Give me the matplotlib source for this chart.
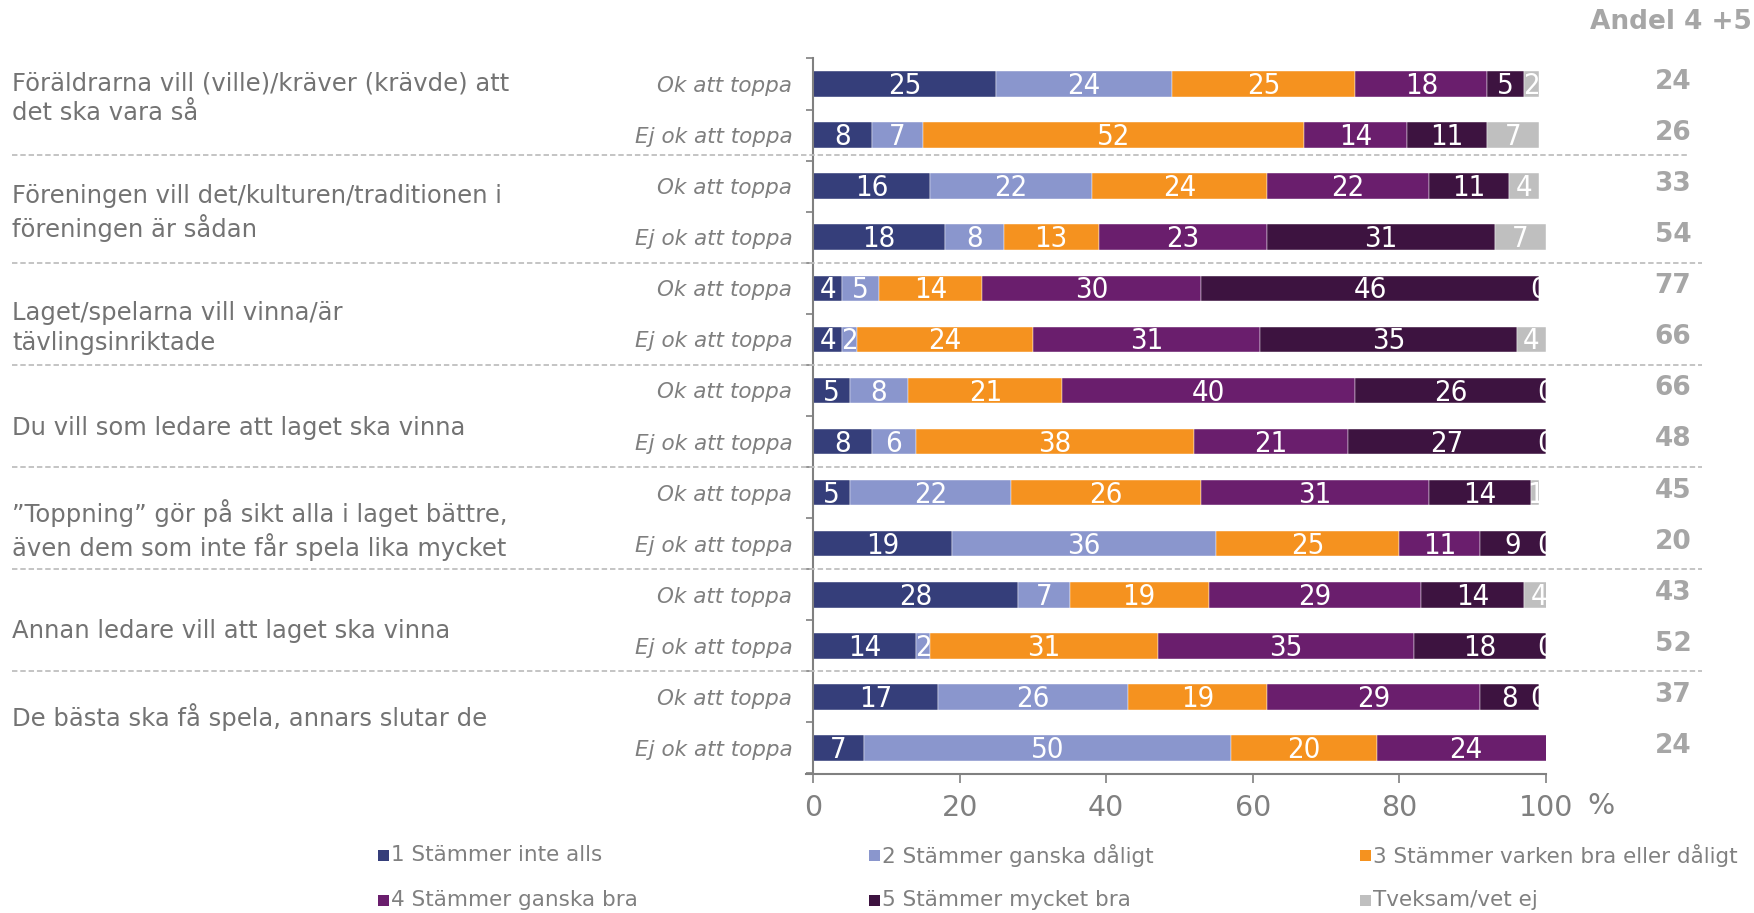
import numpy as np
import matplotlib
matplotlib.use("Agg")
import matplotlib.pyplot as plt
from matplotlib.patches import Rectangle
from matplotlib.transforms import blended_transform_factory

# ---------------- data ----------------
groups = [
    "Föräldrarna vill (ville)/kräver (krävde) att\ndet ska vara så",
    "Föreningen vill det/kulturen/traditionen i\nföreningen är sådan",
    "Laget/spelarna vill vinna/är\ntävlingsinriktade",
    "Du vill som ledare att laget ska vinna",
    "”Toppning” gör på sikt alla i laget bättre,\näven dem som inte får spela lika mycket",
    "Annan ledare vill att laget ska vinna",
    "De bästa ska få spela, annars slutar de",
]
sub_labels = ["Ok att toppa", "Ej ok att toppa"] * 7
series_names = ["1 Stämmer inte alls", "2 Stämmer ganska dåligt",
                "3 Stämmer varken bra eller dåligt", "4 Stämmer ganska bra",
                "5 Stämmer mycket bra", "Tveksam/vet ej"]
s1 = [25, 8, 16, 18, 4, 4, 5, 8, 5, 19, 28, 14, 17, 7]
s2 = [24, 7, 22, 8, 5, 2, 8, 6, 22, 36, 7, 2, 26, 50]
s3 = [25, 52, 24, 13, 14, 24, 21, 38, 26, 25, 19, 31, 19, 20]
s4 = [18, 14, 22, 23, 30, 31, 40, 21, 31, 11, 29, 35, 29, 24]
s5 = [5, 11, 11, 31, 46, 35, 26, 27, 14, 9, 14, 18, 8, None]
s6 = [2, 7, 4, 7, 0, 4, 0, 0, 1, 0, 4, 0, 0, None]
andel = [24, 26, 33, 54, 77, 66, 66, 48, 45, 20, 43, 52, 37, 24]
xticks = [0, 20, 40, 60, 80, 100]

# ---------------- style ----------------
colors = ["#353E7A", "#8A96CD", "#F5921F", "#6A1E6D", "#3D1340", "#BFBFBF"]
W, H = 1754, 913
fig = plt.figure(figsize=(W / 100, H / 100), dpi=100)
ax_left, ax_right, ax_top, ax_bot = 813, 1546, 58.5, 773.5
ax = fig.add_axes([ax_left / W, 1 - ax_bot / H, (ax_right - ax_left) / W, (ax_bot - ax_top) / H])

n = len(s1)
ypos = np.arange(n)
series = [s1, s2, s3, s4, s5, s6]
left = np.zeros(n)
bar_h = 0.5
labels_to_draw = []
for k, s in enumerate(series):
    vals = np.array([np.nan if v is None else v for v in s], dtype=float)
    mask = ~np.isnan(vals)
    ax.barh(ypos[mask], vals[mask], left=left[mask], height=bar_h,
            color=colors[k], edgecolor="white", linewidth=0.3, zorder=2)
    for i in np.where(mask)[0]:
        labels_to_draw.append((left[i] + vals[i] / 2, i, int(vals[i])))
    left = left + np.nan_to_num(vals)

totals = left.copy()
for x, i, v in labels_to_draw:
    t = ax.text(x, i + 0.04, str(v), ha="center", va="center", color="white",
                fontsize=21, fontstretch="condensed", zorder=3)
    clip = Rectangle((0, i - bar_h / 2 - 0.15), min(totals[i], 100), bar_h + 0.3,
                     transform=ax.transData)
    t.set_clip_path(clip)

ax.set_xlim(0, 100)
ax.set_ylim(n - 0.5, -0.5)

gray = "#808080"
for sp in ["top", "right"]:
    ax.spines[sp].set_visible(False)
for sp in ["left", "bottom"]:
    ax.spines[sp].set_color(gray)
    ax.spines[sp].set_linewidth(1.5)
ax.spines["bottom"].set_bounds(-1, 100)

ax.set_xticks(xticks)
ax.set_xticklabels([str(v) for v in xticks])
ax.tick_params(axis="x", direction="out", length=6.5, width=1.2, color=gray,
               labelcolor=gray, labelsize=20.5, pad=8)

ax.set_yticks(ypos)
ax.set_yticklabels(sub_labels, fontstyle="italic", fontsize=15.5, color="#7F7F7F")
ax.tick_params(axis="y", which="major", length=0, pad=15)
ax.set_yticks(np.arange(n + 1) - 0.5, minor=True)
ax.tick_params(axis="y", which="minor", direction="out", length=5, width=1.2, color=gray)

fig.text(1601 / W, 1 - 806 / H, "%", ha="center", va="center",
         fontsize=20.5, color=gray)

# separators
tr = blended_transform_factory(fig.transFigure, ax.transData)
for j in range(1, 7):
    yb = 2 * j - 0.5 - (0.12 if j == 1 else 0)
    x_end = 1687 if j == 1 else 1702
    ln = plt.Line2D([12 / W, x_end / W], [yb, yb],
                    transform=tr, color="#BFBFBF", linewidth=1.3, linestyle=(0, (3, 1.6)),
                    clip_on=False)
    fig.add_artist(ln)

# group labels
group_y_px = [98, 213, 328, 428, 530, 631, 717]
for g, ypx in zip(groups, group_y_px):
    fig.text(12 / W, 1 - ypx / H, g, ha="left", va="center", fontsize=17.5,
             color="#737373", linespacing=1.3)

# right column
fig.text(1752 / W, 1 - 22 / H, "Andel 4 +5", ha="right", va="center",
         fontsize=19, fontweight="bold", color="#A6A6A6")
tr2 = blended_transform_factory(fig.transFigure, ax.transData)
for i, v in enumerate(andel):
    ax.text(1673 / W, i - 0.04, str(v), transform=tr2, ha="center", va="center",
            fontsize=19, fontweight="bold", color="#A6A6A6", clip_on=False)

# legend (manual layout, 3 columns x 2 rows)
col_x = [378, 869, 1360]
row_y = [855, 900]
for k, name in enumerate(series_names):
    cx = col_x[k % 3]
    ry = row_y[k // 3]
    sq = 11
    fig.add_artist(Rectangle((cx / W, 1 - (ry + sq / 2) / H), sq / W, sq / H,
                             transform=fig.transFigure, facecolor=colors[k],
                             edgecolor="none"))
    fig.text((cx + sq + 2) / W, 1 - ry / H, name, ha="left", va="center",
             fontsize=15.5, color=gray)

fig.savefig("out.png", dpi=100)
